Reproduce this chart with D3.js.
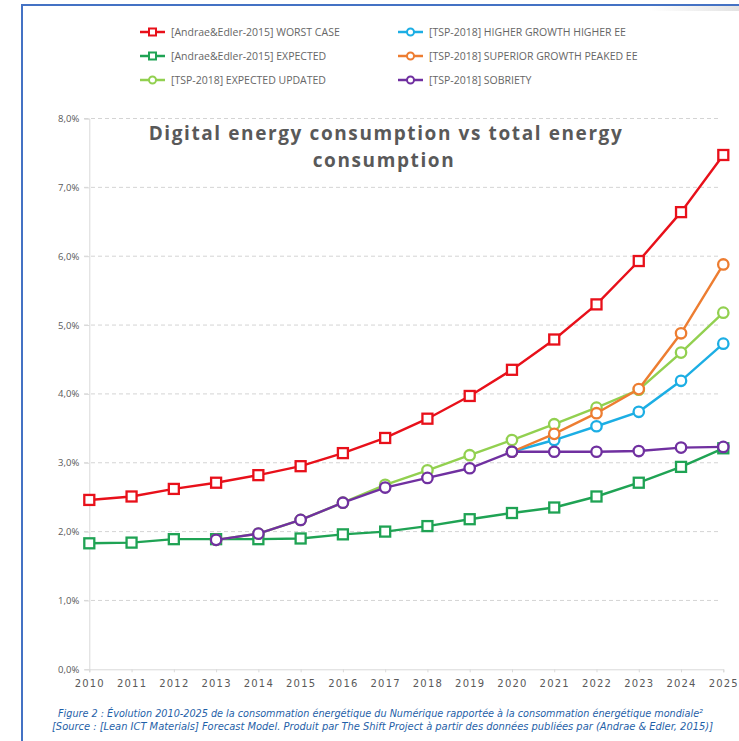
<!DOCTYPE html>
<html><head><meta charset="utf-8">
<script src="https://cdn.jsdelivr.net/npm/d3@7"></script>
<style>html,body{margin:0;padding:0;background:#fff;}svg{display:block;}</style>
</head><body>
<svg id="chart" width="739" height="741"></svg>
<script>
const years = d3.range(2010, 2026);
const yTicks = [0, 1, 2, 3, 4, 5, 6, 7, 8];
const worstCase = [2.46, 2.51, 2.62, 2.71, 2.82, 2.95, 3.14, 3.36, 3.64, 3.97, 4.35, 4.79, 5.30, 5.93, 6.64, 7.47];
const expected = [1.83, 1.84, 1.89, 1.89, 1.89, 1.90, 1.96, 2.00, 2.08, 2.18, 2.27, 2.35, 2.51, 2.71, 2.94, 3.21];
const expectedUpdated = [null, null, null, 1.88, 1.97, 2.17, 2.42, 2.68, 2.89, 3.11, 3.33, 3.56, 3.80, 4.06, 4.60, 5.18];
const higherGrowth = [null, null, null, null, null, null, null, null, null, null, 3.16, 3.33, 3.53, 3.74, 4.19, 4.73];
const superiorGrowth = [null, null, null, null, null, null, null, null, null, null, 3.16, 3.42, 3.72, 4.07, 4.88, 5.88];
const sobriety = [null, null, null, 1.88, 1.97, 2.17, 2.42, 2.64, 2.78, 2.92, 3.16, 3.16, 3.16, 3.17, 3.22, 3.23];

const series = [
  {name: "[Andrae&Edler-2015] WORST CASE", values: worstCase, color: "#E8101A", marker: "square"},
  {name: "[Andrae&Edler-2015] EXPECTED", values: expected, color: "#1FA354", marker: "square"},
  {name: "[TSP-2018] EXPECTED UPDATED", values: expectedUpdated, color: "#92D050", marker: "circle"},
  {name: "[TSP-2018] HIGHER GROWTH HIGHER EE", values: higherGrowth, color: "#1CAEE4", marker: "circle"},
  {name: "[TSP-2018] SUPERIOR GROWTH PEAKED EE", values: superiorGrowth, color: "#ED7D31", marker: "circle"},
  {name: "[TSP-2018] SOBRIETY", values: sobriety, color: "#7030A0", marker: "circle"}
];

const svg = d3.select("#chart");
const grey = "#595959";

// frame
const defs = svg.append("defs");
const grad = defs.append("linearGradient").attr("id","shadow").attr("x1","0").attr("x2","1");
grad.append("stop").attr("offset","0").attr("stop-color","#fff");
grad.append("stop").attr("offset","1").attr("stop-color","#d0d0d0");
svg.append("rect").attr("x",650).attr("y",6).attr("width",89).attr("height",5).attr("fill","url(#shadow)").attr("opacity",0.6);
svg.append("line").attr("x1",22).attr("x2",739).attr("y1",5).attr("y2",5).attr("stroke","#4472C4").attr("stroke-width",2);
svg.append("line").attr("x1",22).attr("x2",22).attr("y1",4).attr("y2",741).attr("stroke","#4472C4").attr("stroke-width",2);

const x = d3.scalePoint().domain(years).range([89.3, 723.3]);
const y = d3.scaleLinear().domain([0, 8]).range([669.3, 118.5]);

// gridlines
const grid = svg.append("g");
grid.selectAll("line").data(yTicks.filter(d => d > 0)).join("line")
  .attr("x1", 84).attr("x2", 721)
  .attr("y1", d => y(d)).attr("y2", d => y(d))
  .attr("stroke", "#d4d4d4").attr("stroke-width", 1).attr("stroke-dasharray", "4,3");

// y axis
const yAxis = svg.append("g").attr("transform", "translate(89.3,0)")
  .call(d3.axisLeft(y).tickValues(yTicks).tickSize(5).tickFormat(d => d3.format(".1f")(d).replace(".", ",") + "%"));
yAxis.select(".domain").attr("stroke", "#d9d9d9");
yAxis.selectAll(".tick line").attr("stroke", "#d9d9d9");
yAxis.selectAll("text").attr("fill", grey).attr("font-family", "'Open Sans', sans-serif").attr("font-size", 9.5).attr("dx", -2);

// x axis
const xAxis = svg.append("g").attr("transform", "translate(0,669.3)")
  .call(d3.axisBottom(x).tickSize(3).tickPadding(8));
xAxis.select(".domain").attr("stroke", "#d9d9d9");
xAxis.selectAll(".tick line").attr("stroke", "#d9d9d9");
xAxis.selectAll("text").attr("fill", grey).attr("font-family", "'DejaVu Sans', sans-serif").attr("font-size", 10).attr("letter-spacing", "1.2px");

// title
const title = svg.append("text").attr("text-anchor", "middle").attr("fill", grey)
  .attr("font-family", "'Open Sans', sans-serif").attr("font-weight", "bold").attr("font-size", 19).attr("letter-spacing", "1.6px");
title.append("tspan").attr("x", 386).attr("y", 140).text("Digital energy consumption vs total energy");
title.append("tspan").attr("x", 384).attr("y", 167).text("consumption");

// lines & markers
const line = d3.line().defined(d => d.v !== null).x(d => x(d.year)).y(d => y(d.v));
series.forEach(s => {
  const pts = s.values.map((v, i) => ({year: years[i], v}));
  const g = svg.append("g");
  g.append("path").datum(pts).attr("d", line).attr("fill", "none").attr("stroke", s.color).attr("stroke-width", 2.4);
  const valid = pts.filter(d => d.v !== null);
  if (s.marker === "square") {
    g.selectAll("rect").data(valid).join("rect")
      .attr("x", d => x(d.year) - 5).attr("y", d => y(d.v) - 5)
      .attr("width", 10).attr("height", 10)
      .attr("fill", "#fff").attr("stroke", s.color).attr("stroke-width", 2.3);
  } else {
    g.selectAll("circle").data(valid).join("circle")
      .attr("cx", d => x(d.year)).attr("cy", d => y(d.v)).attr("r", 5.2)
      .attr("fill", "#fff").attr("stroke", s.color).attr("stroke-width", 2.3);
  }
});

// legend
const legendPos = [[140, 32], [140, 56], [140, 80], [398, 32], [398, 56], [398, 80]];
series.forEach((s, i) => {
  const [lx, ly] = legendPos[i];
  const g = svg.append("g").attr("transform", `translate(${lx},${ly})`);
  g.append("line").attr("x1", 0).attr("x2", 25).attr("y1", 0).attr("y2", 0).attr("stroke", s.color).attr("stroke-width", 2.5);
  if (s.marker === "square") {
    g.append("rect").attr("x", 9).attr("y", -3.5).attr("width", 7).attr("height", 7).attr("fill", "#fff").attr("stroke", s.color).attr("stroke-width", 2);
  } else {
    g.append("circle").attr("cx", 12.5).attr("cy", 0).attr("r", 3.5).attr("fill", "#fff").attr("stroke", s.color).attr("stroke-width", 2);
  }
  g.append("text").attr("x", 31).attr("y", 4).attr("fill", "#666")
    .attr("font-family", "'Open Sans', sans-serif").attr("font-size", 10.5).text(s.name);
});

// caption
const cap = svg.append("text").attr("fill", "#1F5FA8").attr("font-style", "italic")
  .attr("font-family", "'DejaVu Sans', sans-serif").attr("font-size", 10);
cap.append("tspan").attr("x", 58).attr("y", 717).attr("textLength", 645).attr("lengthAdjust", "spacingAndGlyphs")
  .text("Figure 2 : Évolution 2010-2025 de la consommation énergétique du Numérique rapportée à la consommation énergétique mondiale²");
cap.append("tspan").attr("x", 52).attr("y", 730).attr("textLength", 661).attr("lengthAdjust", "spacingAndGlyphs")
  .text("[Source : [Lean ICT Materials] Forecast Model. Produit par The Shift Project à partir des données publiées par (Andrae & Edler, 2015)]");
</script>
</body></html>
